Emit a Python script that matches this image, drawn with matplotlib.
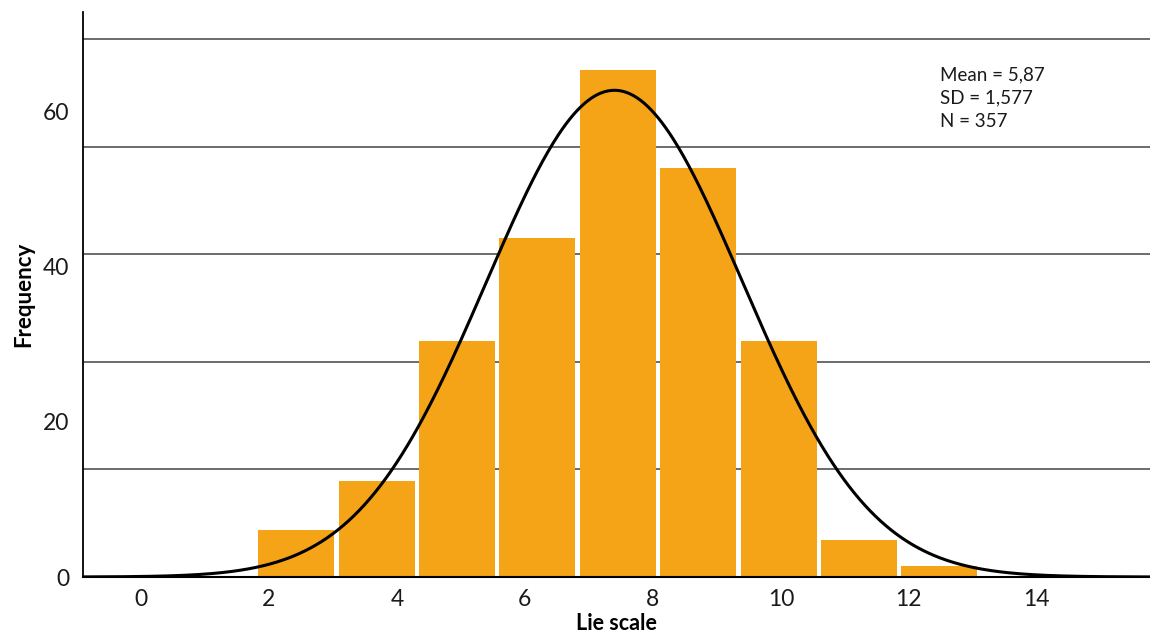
import numpy as np
import matplotlib
matplotlib.use("Agg")
import matplotlib.pyplot as plt

plt.rcParams['font.family'] = ['Lato', 'DejaVu Sans']

# Data (as displayed)
bin_left = [1.83, 3.09, 4.34, 5.59, 6.86, 8.11, 9.375, 10.625, 11.875]
counts = [6.1, 12.4, 30.5, 43.8, 65.4, 52.8, 30.5, 4.8, 1.4]
bar_width = 1.19
curve_center = 7.4
curve_sd = 2.0
curve_peak = 62.8
x_ticks = [0, 2, 4, 6, 8, 10, 12, 14]
y_ticks = [0, 20, 40, 60]
grid_levels = [13.9, 27.75, 41.65, 55.5, 69.4]
stats_text = "Mean = 5,87\nSD = 1,577\nN = 357"

fig = plt.figure(figsize=(11.5, 6.34), dpi=100)
ax = fig.add_axes([83/1150, 1 - 577/634, (1150-83)/1150, (577-12)/634])

ax.set_xlim(-0.906, 15.77)
ax.set_ylim(0, 72.9)

for g in grid_levels:
    ax.axhline(g, color='#444444', lw=1.1, zorder=1)

ax.bar(bin_left, counts, width=bar_width, align='edge', color='#F5A418', zorder=2)

xs = np.linspace(-0.906, 15.77, 600)
ys = curve_peak * np.exp(-0.5 * ((xs - curve_center) / curve_sd) ** 2)
ax.plot(xs, ys, color='black', lw=2.2, zorder=3, solid_capstyle='butt')

for s in ['top', 'right']:
    ax.spines[s].set_visible(False)
ax.spines['left'].set_color('black')
ax.spines['bottom'].set_color('black')
ax.spines['left'].set_linewidth(1.3)
ax.spines['bottom'].set_linewidth(1.5)
ax.spines['bottom'].set_zorder(4)

ax.set_xticks(x_ticks)
ax.set_yticks(y_ticks)
ax.tick_params(axis='both', length=0, labelsize=16.5, colors='#1a1a1a')
ax.tick_params(axis='x', pad=9)
ax.tick_params(axis='y', pad=10)

ax.set_xlabel('Lie scale', fontsize=15.5, fontweight='bold', labelpad=2)
ax.set_ylabel('Frequency', fontsize=16, fontweight='bold', labelpad=6)

ax.text(940/1150, 1 - 66/634, stats_text, transform=fig.transFigure,
        fontsize=13.5, va='top', ha='left', linespacing=1.45, color='#1a1a1a')
fig.savefig('out.png', dpi=100)
